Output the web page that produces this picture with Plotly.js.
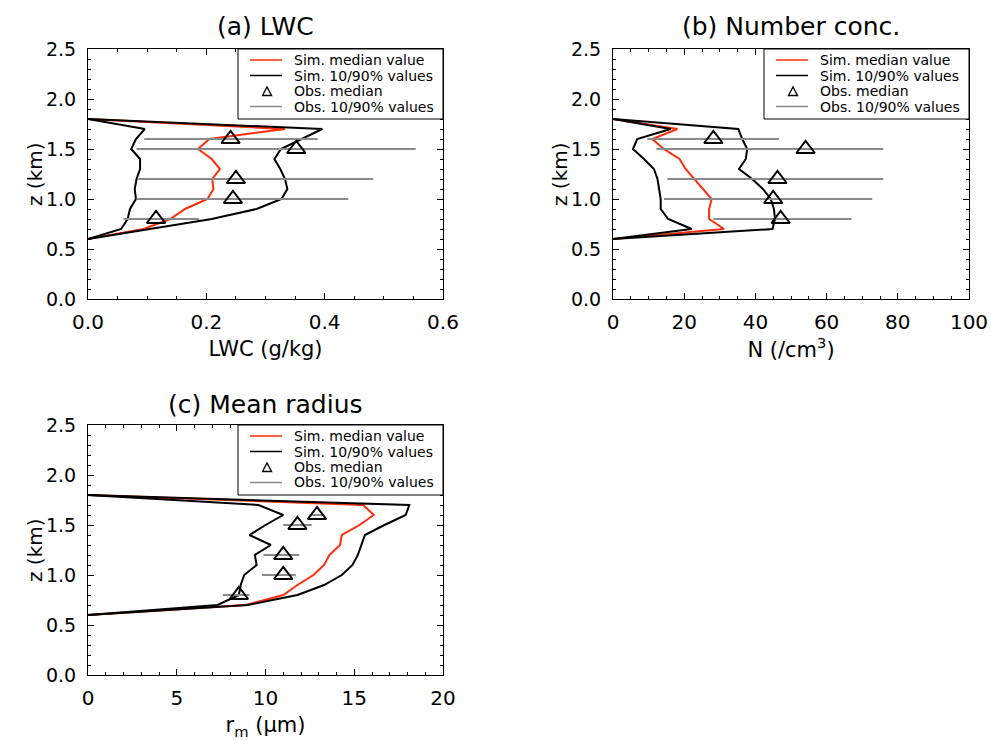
<!DOCTYPE html>
<html>
<head>
<meta charset="utf-8">
<script src="https://cdn.plot.ly/plotly-3.0.1.min.js"></script>
<style>html,body{margin:0;padding:0;background:#fff;}#chart{width:991px;height:740px;}</style>
</head>
<body>
<div id="chart"></div>
<script>
// Heights of simulated profiles (km)
const zSim = [0.6, 0.7, 0.8, 0.9, 1.0, 1.1, 1.2, 1.3, 1.4, 1.5, 1.6, 1.7, 1.8];
// Heights of observations (km)
const zObs = [0.8, 1.0, 1.2, 1.5, 1.6];

// (a) LWC (g/kg)
const lwcMed = [0, 0.094, 0.139, 0.164, 0.202, 0.212, 0.210, 0.223, 0.209, 0.186, 0.205, 0.333, 0];
const lwcP10 = [0, 0.056, 0.067, 0.071, 0.081, 0.079, 0.082, 0.088, 0.088, 0.073, 0.081, 0.096, 0];
const lwcP90 = [0, 0.105, 0.209, 0.285, 0.327, 0.337, 0.333, 0.325, 0.315, 0.326, 0.361, 0.396, 0];
const lwcObsMed = [0.115, 0.245, 0.250, 0.352, 0.241];
const lwcObs10  = [0.060, 0.082, 0.085, 0.082, 0.095];
const lwcObs90  = [0.188, 0.440, 0.482, 0.554, 0.388];

// (b) Number concentration (/cm3)
const nMed = [0, 31.2, 27.0, 27.0, 27.7, 25.3, 23.0, 20.4, 18.7, 14.3, 11.0, 18.1, 0];
const nP10 = [0, 22.1, 15.5, 13.4, 13.4, 12.9, 12.5, 11.5, 8.7, 5.6, 6.8, 16.2, 0];
const nP90 = [0, 44.8, 45.5, 45.2, 44.3, 42.1, 39.1, 35.4, 37.3, 37.7, 36.3, 35.2, 0];
const nObsMed = [47.1, 45.0, 46.2, 54.1, 28.2];
const nObs10  = [28.2, 14.3, 15.3, 12.2, 9.6];
const nObs90  = [67.0, 72.8, 75.9, 75.9, 46.6];

// (c) Mean radius (um)
const rMed = [0, 8.9, 11.0, 11.8, 12.7, 13.3, 13.6, 14.2, 14.3, 15.3, 16.1, 15.5, 0];
const rP10 = [0, 7.3, 8.5, 8.6, 8.8, 9.5, 9.4, 10.3, 9.1, 10.0, 11.0, 9.6, 0];
const rP90 = [0, 9.0, 11.8, 13.3, 14.3, 14.9, 15.2, 15.4, 15.6, 16.7, 17.9, 18.1, 0];
const rObsMed = [8.5, 11.0, 11.0, 11.8, 12.9];
const rObs10  = [7.6, 9.8, 9.9, 11.0, 12.5];
const rObs90  = [9.1, 11.7, 11.9, 12.6, 13.3];

const legendNames = ['Sim. median value', 'Sim. 10/90% values', 'Obs. median', 'Obs. 10/90% values'];
const panelTitles = ['(a) LWC', '(b) Number conc.', '(c) Mean radius'];
const xTitles = ['LWC (g/kg)', 'N (/cm<sup>3</sup>)', 'r<sub>m</sub> (&#956;m)'];
const yTitle = 'z (km)';

const RED = '#ff2d0a', GRAY = '#8a8a8a', BLACK = '#000';
const FONT = 'DejaVu Sans, sans-serif';
const W = 991, H = 740;

function panelTraces(med, p10, p90, oMed, o10, o90, xa, ya) {
  const bandX = p10.concat([null], p90);
  const bandY = zSim.concat([null], zSim);
  const gx = [], gy = [];
  for (let i = 0; i < zObs.length; i++) { gx.push(o10[i], o90[i], null); gy.push(zObs[i], zObs[i], null); }
  return [
    {x: med, y: zSim, mode: 'lines', name: legendNames[0], line: {color: RED, width: 2}, xaxis: xa, yaxis: ya},
    {x: bandX, y: bandY, mode: 'lines', name: legendNames[1], line: {color: BLACK, width: 2}, xaxis: xa, yaxis: ya},
    {x: gx, y: gy, mode: 'lines', name: legendNames[3], line: {color: GRAY, width: 2}, xaxis: xa, yaxis: ya},
    {x: oMed, y: zObs, mode: 'markers', name: legendNames[2], marker: {symbol: 'triangle-up-open', size: 16, color: BLACK, line: {width: 2, color: BLACK}}, xaxis: xa, yaxis: ya}
  ];
}

const data = [].concat(
  panelTraces(lwcMed, lwcP10, lwcP90, lwcObsMed, lwcObs10, lwcObs90, 'x', 'y'),
  panelTraces(nMed, nP10, nP90, nObsMed, nObs10, nObs90, 'x2', 'y2'),
  panelTraces(rMed, rP10, rP90, rObsMed, rObs10, rObs90, 'x3', 'y3')
);

function xax(domain, range, dtick, minor, anchor, title, fmt) {
  return {
    domain: domain, range: range, anchor: anchor, dtick: dtick, tick0: 0, tickformat: fmt,
    ticks: 'inside', ticklen: 6, tickwidth: 1, tickcolor: BLACK,
    minor: {dtick: minor, ticks: 'inside', ticklen: 3, tickcolor: BLACK},
    showline: true, linecolor: BLACK, linewidth: 1, mirror: 'allticks',
    showgrid: false, zeroline: false, fixedrange: true,
    tickfont: {family: FONT, size: 20, color: BLACK},
    ticklabelstandoff: 5,
    title: {text: title, font: {family: FONT, size: 21, color: BLACK}, standoff: 8}
  };
}
function yax(domain, anchor) {
  return {
    domain: domain, range: [0, 2.5], anchor: anchor, dtick: 0.5, tick0: 0, tickformat: '.1f',
    ticks: 'inside', ticklen: 6, tickwidth: 1, tickcolor: BLACK,
    minor: {dtick: 0.1, ticks: 'inside', ticklen: 3, tickcolor: BLACK},
    showline: true, linecolor: BLACK, linewidth: 1, mirror: 'allticks',
    showgrid: false, zeroline: false, fixedrange: true,
    tickfont: {family: FONT, size: 19, color: BLACK},
    ticklabelstandoff: 7
  };
}

const xdA = [88/W, 443/W], xdB = [613/W, 969/W];
const ydTop = [1 - 299/H, 1 - 49/H], ydBot = [1 - 675/H, 1 - 425/H];

// Hand-drawn legend box (IDL style) at the top-right corner of each panel
const shapes = [], annotations = [];
function px(x) { return x / W; }
function py(y) { return 1 - y / H; }
function addLegend(right, top) {
  const left = right - 205, bottom = top + 70;
  const rows = [top + 11, top + 26.5, top + 42, top + 57.5];
  shapes.push({type: 'rect', xref: 'paper', yref: 'paper', x0: px(left), x1: px(right), y0: py(bottom), y1: py(top),
    fillcolor: '#fff', line: {color: BLACK, width: 1}, layer: 'above'});
  const sampleColors = [RED, BLACK, null, GRAY];
  for (let i = 0; i < 4; i++) {
    if (sampleColors[i]) {
      shapes.push({type: 'line', xref: 'paper', yref: 'paper', x0: px(left + 12), x1: px(left + 44), y0: py(rows[i]), y1: py(rows[i]),
        line: {color: sampleColors[i], width: 1.5}, layer: 'above'});
    } else {
      const cx = left + 29, cy = rows[i] + 0.5;
      const p = 'M ' + px(cx - 4.5) + ' ' + py(cy + 4) + ' L ' + px(cx + 4.5) + ' ' + py(cy + 4) + ' L ' + px(cx) + ' ' + py(cy - 4.5) + ' Z';
      shapes.push({type: 'path', xref: 'paper', yref: 'paper', path: p, line: {color: BLACK, width: 1.3}, layer: 'above'});
    }
    annotations.push({text: legendNames[i], xref: 'paper', yref: 'paper', x: px(left + 54), y: py(rows[i]),
      xanchor: 'left', yanchor: 'middle', showarrow: false, font: {family: FONT, size: 14, color: BLACK}});
  }
}
addLegend(443, 49);
addLegend(969, 49);
addLegend(443, 425);

const titleFont = {family: FONT, size: 25, color: BLACK};
const yTitleFont = {family: FONT, size: 20, color: BLACK};
annotations.push(
  {text: panelTitles[0], x: (xdA[0] + xdA[1]) / 2, y: py(27), xref: 'paper', yref: 'paper', showarrow: false, xanchor: 'center', yanchor: 'middle', font: titleFont},
  {text: panelTitles[1], x: (xdB[0] + xdB[1]) / 2, y: py(27), xref: 'paper', yref: 'paper', showarrow: false, xanchor: 'center', yanchor: 'middle', font: titleFont},
  {text: panelTitles[2], x: (xdA[0] + xdA[1]) / 2, y: py(405), xref: 'paper', yref: 'paper', showarrow: false, xanchor: 'center', yanchor: 'middle', font: titleFont},
  {text: yTitle, textangle: -90, x: px(35), y: (ydTop[0] + ydTop[1]) / 2, xref: 'paper', yref: 'paper', showarrow: false, xanchor: 'center', yanchor: 'middle', font: yTitleFont},
  {text: yTitle, textangle: -90, x: px(560), y: (ydTop[0] + ydTop[1]) / 2, xref: 'paper', yref: 'paper', showarrow: false, xanchor: 'center', yanchor: 'middle', font: yTitleFont},
  {text: yTitle, textangle: -90, x: px(35), y: (ydBot[0] + ydBot[1]) / 2, xref: 'paper', yref: 'paper', showarrow: false, xanchor: 'center', yanchor: 'middle', font: yTitleFont}
);

const layout = {
  width: W, height: H,
  margin: {l: 0, r: 0, t: 0, b: 0},
  paper_bgcolor: '#fff', plot_bgcolor: '#fff',
  showlegend: false,
  font: {family: FONT, color: BLACK},
  xaxis: xax(xdA, [0, 0.6], 0.2, 0.05, 'y', xTitles[0], '.1f'),
  yaxis: yax(ydTop, 'x'),
  xaxis2: xax(xdB, [0, 100], 20, 5, 'y2', xTitles[1], 'd'),
  yaxis2: yax(ydTop, 'x2'),
  xaxis3: xax(xdA, [0, 20], 5, 1, 'y3', xTitles[2], 'd'),
  yaxis3: yax(ydBot, 'x3'),
  shapes: shapes,
  annotations: annotations
};

Plotly.newPlot('chart', data, layout, {staticPlot: true, displayModeBar: false});
</script>
</body>
</html>
